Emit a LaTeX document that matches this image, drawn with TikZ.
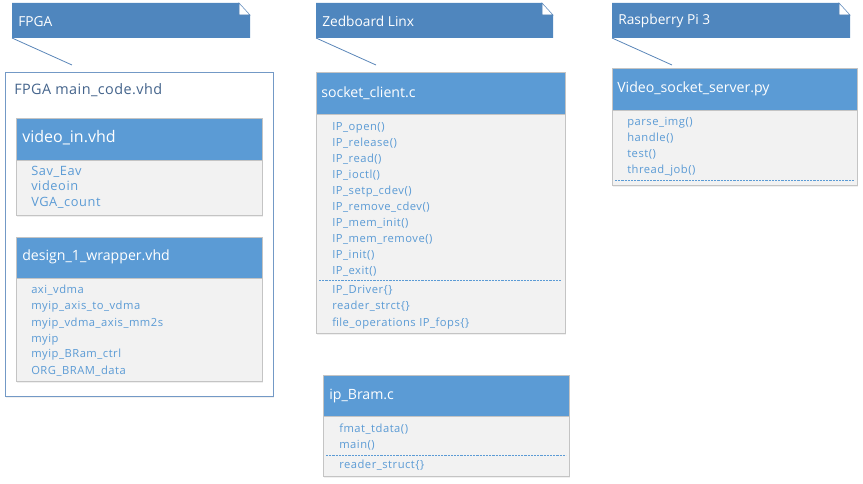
\documentclass[tikz,border=0pt]{standalone}
\usepackage{fontspec}
\setmainfont{Open Sans}
\newfontfamily\itemfont{Open Sans}[LetterSpace=4.5]
\newfontfamily\titlefont{Open Sans}[LetterSpace=3.0]
\usetikzlibrary{shadows}
\definecolor{notefill}{HTML}{4F86BE}
\definecolor{noteline}{HTML}{5A86B8}
\definecolor{hdrfill}{HTML}{5B9BD5}
\definecolor{bodyfill}{HTML}{F2F2F2}
\definecolor{boxline}{HTML}{C4C4C4}
\definecolor{itemtext}{HTML}{5B9BD5}
\definecolor{outerline}{HTML}{7399C6}
\definecolor{titletext}{HTML}{44648C}
\tikzset{
  notetxt/.style={anchor=west, text=white, inner sep=0pt, font=\fontsize{10.3pt}{12pt}\selectfont},
  hdrtxt/.style={anchor=west, text=white, inner sep=0pt, font=\fontsize{10.6pt}{12pt}\selectfont},
  bighdrtxt/.style={anchor=west, text=white, inner sep=0pt, font=\fontsize{12pt}{14pt}\selectfont},
  itemtxt/.style={anchor=base west, text=itemtext, inner sep=0pt, font=\itemfont\fontsize{8.4pt}{10pt}\selectfont},
  bigitemtxt/.style={anchor=base west, text=itemtext, inner sep=0pt, font=\itemfont\fontsize{9.6pt}{11pt}\selectfont},
  titletxt/.style={anchor=west, text=titletext, inner sep=0pt, font=\titlefont\fontsize{10.8pt}{12pt}\selectfont},
  sepline/.style={draw=itemtext, line width=0.5pt, dash pattern=on 1.6pt off 0.8pt},
  tail/.style={draw=noteline, line width=0.6pt},
  shade/.style={drop shadow={opacity=0.12, shadow xshift=1pt, shadow yshift=-1.2pt}},
}
% note shape: #1 left x, #2 right x
\newcommand\mynote[2]{%
  \fill[notefill] (#1,3) -- (#2-11,3) -- (#2-11,15) -- (#2,15) -- (#2,38) -- (#1,38) -- cycle;
  \draw[noteline, line width=0.4pt] (#2-11,3) -- (#2,15) -- (#2-11,15) -- cycle;
}
% class box: #1 x1, #2 y top, #3 x2, #4 y header bottom, #5 y bottom
\newcommand\myclass[5]{%
  \fill[bodyfill, shade] (#1,#2) rectangle (#3,#5);
  \fill[hdrfill] (#1,#2) rectangle (#3,#4);
  \draw[boxline, line width=0.6pt] (#1,#2) rectangle (#3,#5);
  \draw[boxline, line width=0.6pt] (#1,#4) -- (#3,#4);
}
\begin{document}
\begin{tikzpicture}[x=0.75pt, y=-0.75pt]
\useasboundingbox (0,0) rectangle (863,484);

% ---------- notes ----------
\mynote{12}{250}
\node[notetxt] (n-fpga) at (18,22) {FPGA};
\coordinate (n-fpga-sw) at (12,38);
\coordinate (n-fpga-end) at (72,65);
\draw[tail] (n-fpga-sw) -- (n-fpga-end);

\mynote{316}{553}
\node[notetxt] (n-zed) at (322,21) {Zedboard Linx};
\coordinate (n-zed-sw) at (316,38);
\coordinate (n-zed-end) at (376,65);
\draw[tail] (n-zed-sw) -- (n-zed-end);

\mynote{612}{850}
\node[notetxt] (n-rpi) at (618,21) {Raspberry Pi 3};
\coordinate (n-rpi-sw) at (612,38);
\coordinate (n-rpi-end) at (672,65);
\draw[tail] (n-rpi-sw) -- (n-rpi-end);

% ---------- FPGA outer box ----------
\draw[outerline, fill=white, line width=0.7pt, shade] (5,72) rectangle (273,396);
\node[titletxt] (fpga-title) at (14,90) {FPGA main\_code.vhd};

% video_in.vhd
\myclass{16}{118}{262}{160}{215}
\node[bighdrtxt] (vin-h) at (22,138) {video\_in.vhd};
\foreach \t [count=\i from 0] in {Sav\_Eav, videoin, VGA\_count}
  \node[bigitemtxt] (vin-\i) at (31,175.5+15.5*\i) {\t};

% design_1_wrapper.vhd
\myclass{16}{237}{262}{278}{381}
\node[hdrtxt] (dw-h) at (22,257) {design\_1\_wrapper.vhd};
\foreach \t [count=\i from 0] in {axi\_vdma, myip\_axis\_to\_vdma, myip\_vdma\_axis\_mm2s, myip, myip\_BRam\_ctrl, ORG\_BRAM\_data}
  \node[itemtxt] (dw-\i) at (31,294+16*\i) {\t};

% ---------- socket_client.c ----------
\myclass{316}{72}{565}{114}{333}
\node[hdrtxt] (sc-h) at (321,93) {socket\_client.c};
\foreach \t [count=\i from 0] in {IP\_open(), IP\_release(), IP\_read(), IP\_ioctl(), IP\_setp\_cdev(), IP\_remove\_cdev(), IP\_mem\_init(), IP\_mem\_remove(), IP\_init(), IP\_exit()}
  \node[itemtxt] (sc-\i) at (332,131+15.9*\i) {\t};
\coordinate (sc-sl) at (319,280);
\coordinate (sc-sr) at (562,280);
\draw[sepline] (sc-sl) -- (sc-sr);
\foreach \t [count=\i from 0] in {IP\_Driver\{\}, reader\_strct\{\}, file\_operations IP\_fops\{\}}
  \node[itemtxt] (sd-\i) at (332,294+16*\i) {\t};

% ---------- ip_Bram.c ----------
\myclass{323}{375}{569}{416}{476}
\node[hdrtxt] (ib-h) at (329,396) {ip\_Bram.c};
\foreach \t [count=\i from 0] in {fmat\_tdata(), main()}
  \node[itemtxt] (ib-\i) at (339,432+16*\i) {\t};
\coordinate (ib-sl) at (326,455);
\coordinate (ib-sr) at (566,455);
\draw[sepline] (ib-sl) -- (ib-sr);
\node[itemtxt] (ib-d) at (339,468) {reader\_struct\{\}};

% ---------- Video_socket_server.py ----------
\myclass{612}{68}{857}{110}{185}
\node[hdrtxt] (vs-h) at (617,89) {Video\_socket\_server.py};
\foreach \t [count=\i from 0] in {parse\_img(), handle(), test(), thread\_job()}
  \node[itemtxt] (vs-\i) at (627,126+16*\i) {\t};
\coordinate (vs-sl) at (615,180);
\coordinate (vs-sr) at (854,180);
\draw[sepline] (vs-sl) -- (vs-sr);
\end{tikzpicture}
\end{document}
